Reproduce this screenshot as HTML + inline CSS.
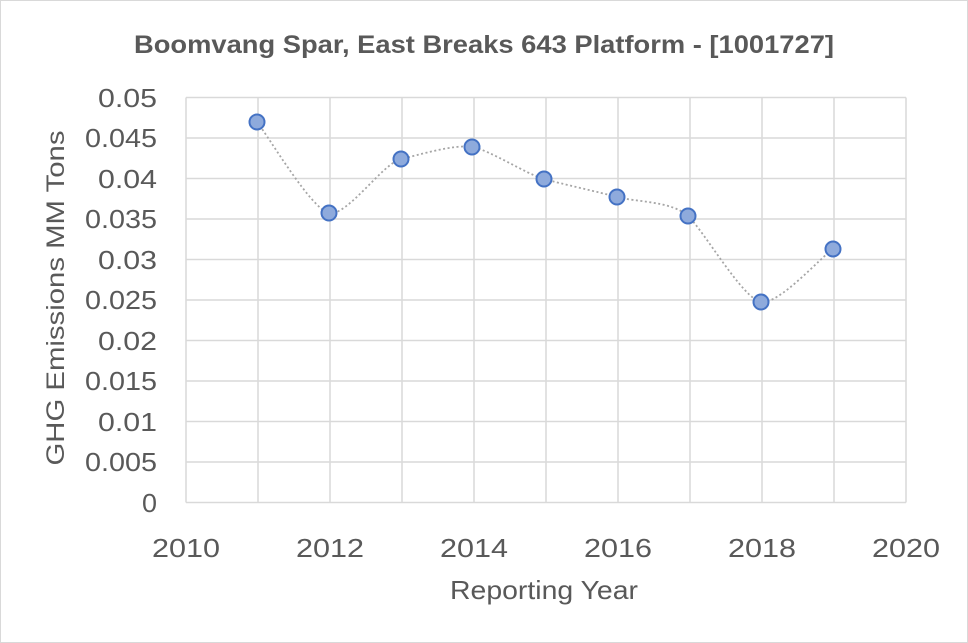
<!DOCTYPE html>
<html><head><meta charset="utf-8"><style>
body{margin:0;background:#fff;}
svg{display:block;font-family:"Liberation Sans",sans-serif;}
</style></head><body>
<svg width="968" height="643" viewBox="0 0 968 643" xmlns="http://www.w3.org/2000/svg">
<rect x="0.5" y="0.5" width="967" height="642" fill="#fff" stroke="#d9d9d9"/>
<text x="484" y="53" text-anchor="middle" font-size="25" font-weight="bold" fill="#595959" textLength="700" lengthAdjust="spacingAndGlyphs">Boomvang Spar, East Breaks 643 Platform - [1001727]</text>
<g stroke="#d9d9d9" stroke-width="1.5" fill="none">
<line x1="186" y1="97.5" x2="906" y2="97.5"/>
<line x1="186" y1="138" x2="906" y2="138"/>
<line x1="186" y1="178.5" x2="906" y2="178.5"/>
<line x1="186" y1="219" x2="906" y2="219"/>
<line x1="186" y1="259.5" x2="906" y2="259.5"/>
<line x1="186" y1="300" x2="906" y2="300"/>
<line x1="186" y1="340.5" x2="906" y2="340.5"/>
<line x1="186" y1="381" x2="906" y2="381"/>
<line x1="186" y1="421.5" x2="906" y2="421.5"/>
<line x1="186" y1="462" x2="906" y2="462"/>
<line x1="186" y1="502.5" x2="906" y2="502.5"/>
<line x1="186" y1="97.5" x2="186" y2="502.5"/>
<line x1="258" y1="97.5" x2="258" y2="502.5"/>
<line x1="330" y1="97.5" x2="330" y2="502.5"/>
<line x1="402" y1="97.5" x2="402" y2="502.5"/>
<line x1="474" y1="97.5" x2="474" y2="502.5"/>
<line x1="546" y1="97.5" x2="546" y2="502.5"/>
<line x1="618" y1="97.5" x2="618" y2="502.5"/>
<line x1="690" y1="97.5" x2="690" y2="502.5"/>
<line x1="762" y1="97.5" x2="762" y2="502.5"/>
<line x1="834" y1="97.5" x2="834" y2="502.5"/>
<line x1="906" y1="97.5" x2="906" y2="502.5"/>
</g>
<g font-size="26" fill="#595959" text-anchor="end">
<text x="157" y="107" textLength="59" lengthAdjust="spacingAndGlyphs">0.05</text>
<text x="157" y="147" textLength="72" lengthAdjust="spacingAndGlyphs">0.045</text>
<text x="157" y="188" textLength="59" lengthAdjust="spacingAndGlyphs">0.04</text>
<text x="157" y="228" textLength="72" lengthAdjust="spacingAndGlyphs">0.035</text>
<text x="157" y="269" textLength="59" lengthAdjust="spacingAndGlyphs">0.03</text>
<text x="157" y="309" textLength="72" lengthAdjust="spacingAndGlyphs">0.025</text>
<text x="157" y="350" textLength="59" lengthAdjust="spacingAndGlyphs">0.02</text>
<text x="157" y="390" textLength="72" lengthAdjust="spacingAndGlyphs">0.015</text>
<text x="157" y="431" textLength="59" lengthAdjust="spacingAndGlyphs">0.01</text>
<text x="157" y="471" textLength="72" lengthAdjust="spacingAndGlyphs">0.005</text>
<text x="157" y="512" textLength="15" lengthAdjust="spacingAndGlyphs">0</text>
</g>
<g font-size="26" fill="#595959" text-anchor="middle">
<text x="186" y="557" textLength="68" lengthAdjust="spacingAndGlyphs">2010</text>
<text x="330" y="557" textLength="68" lengthAdjust="spacingAndGlyphs">2012</text>
<text x="474" y="557" textLength="68" lengthAdjust="spacingAndGlyphs">2014</text>
<text x="618" y="557" textLength="68" lengthAdjust="spacingAndGlyphs">2016</text>
<text x="762" y="557" textLength="68" lengthAdjust="spacingAndGlyphs">2018</text>
<text x="906" y="557" textLength="68" lengthAdjust="spacingAndGlyphs">2020</text>
<text x="544" y="599" textLength="188" lengthAdjust="spacingAndGlyphs">Reporting Year</text>
</g>
<text transform="translate(64,298) rotate(-90)" font-size="25" fill="#595959" text-anchor="middle" textLength="335" lengthAdjust="spacingAndGlyphs">GHG Emissions MM Tons</text>
<path d="M257,122 C269,137 311,209 329,213 C347,217 383,163 401,159 C419,155 454,144 472,147 C490,150 526,174 544,179 C562,184 599,192 617,197 C635,202 672,201 688,216 C704,231 743,299 761,302 C779,305 821,257 833,249" fill="none" stroke="#a6a6a6" stroke-width="1.8" stroke-dasharray="2 2.5"/>
<g fill="#8eaadc" stroke="#4472c4" stroke-width="2">
<circle cx="257" cy="122" r="7.5"/>
<circle cx="329" cy="213" r="7.5"/>
<circle cx="401" cy="159" r="7.5"/>
<circle cx="472" cy="147" r="7.5"/>
<circle cx="544" cy="179" r="7.5"/>
<circle cx="617" cy="197" r="7.5"/>
<circle cx="688" cy="216" r="7.5"/>
<circle cx="761" cy="302" r="7.5"/>
<circle cx="833" cy="249" r="7.5"/>
</g>
</svg>
</body></html>
